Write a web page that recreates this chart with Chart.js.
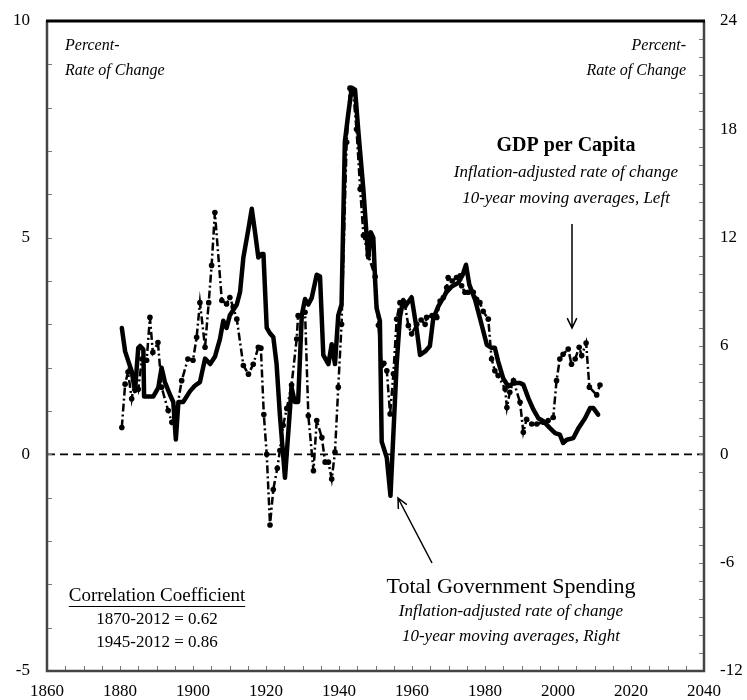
<!DOCTYPE html>
<html>
<head>
<meta charset="utf-8">
<script src="https://cdn.jsdelivr.net/npm/chart.js@4.4.1/dist/chart.umd.min.js"></script>
<style>
  html, body { margin: 0; padding: 0; background: #fff; }
  #wrap { width: 747px; height: 700px; position: relative; }
</style>
</head>
<body>
<div id="wrap"><canvas id="chart" width="747" height="700"></canvas></div>
<script>
// GDP per capita, 10-yr moving avg, % change (left axis)
const gdpYears = [1880.5,1881.4,1882.2,1883.2,1884.1,1885,1886,1887.3,1888.2,1889,1890.4,1891.4,1893.2,1894.2,1895.5,1896.9,1898.6,1900,1901,1901.9,
  1903.3,1904.3,1905.1,1906,1907.9,1909.2,1910.1,1911,1912,1913.8,1915.2,1916.5,1917.9,1918.6,1919.4,1920.2,1921.1,1922,1923.1,1923.8,
  1924.7,1925.7,1927,1928.4,1928.8,1930.7,1931.6,1933,1933.9,1935.3,1936.2,1937.1,1938,1938.9,1939.8,1940.7,1942.1,1943,1943.9,1944.8,
  1945.8,1946.7,1948,1949.9,1950.8,1951.7,1952.3,1953.1,1954,1954.9,1955.8,1956.7,1958.1,1959,1959.9,1961.3,1962.5,1963.6,1964,1965.5,
  1966.8,1967.7,1968.6,1969.5,1969.9,1971,1972.2,1973.2,1973.6,1974.5,1975.4,1976.8,1977.7,1978.6,1979.5,1980.9,1981.8,1982.7,1983.6,1985.5,
  1986,1986.8,1987.8,1989.6,1990.5,1991.4,1992.8,1994.2,1996,1997.3,1998.7,1999.6,2000.5,2001.4,2002.8,2003.7,2004.7,2005.8,2006.5,2007.7,
  2008.6,2010.6,2011.5];
const gdpValues = [0.62,1.62,1.9,1.28,1.75,1.5,2.2,2.17,3.16,2.35,2.58,1.55,1.01,0.74,1.0,1.7,2.2,2.17,2.7,3.5,
  2.47,3.5,4.36,5.58,3.55,3.47,3.62,3.4,3.12,2.05,1.85,2.08,2.47,2.45,0.92,0.0,-1.63,-0.81,-0.32,0.09,
  0.67,1.06,1.6,2.66,3.2,3.28,0.89,-0.38,0.78,0.39,-0.18,-0.18,-0.57,0.05,1.55,3.0,7.2,8.45,8.35,7.5,
  6.12,5.05,4.6,4.1,2.98,2.05,2.1,1.93,0.93,1.86,3.12,3.5,3.43,2.97,2.78,3.0,3.1,3.0,3.16,3.2,
  3.16,3.54,3.62,3.85,4.08,4.0,4.08,4.12,3.89,3.74,3.74,3.74,3.58,3.5,3.3,3.12,2.2,1.93,1.82,1.51,
  1.08,1.43,1.7,1.2,0.51,0.81,0.7,0.7,0.74,0.78,0.85,1.7,2.2,2.31,2.43,2.08,2.2,2.47,2.28,2.57,
  1.55,1.37,1.6];

// Total government spending, 10-yr moving avg, % change (right axis)
const spendYears = [1880.5,1881.4,1882.3,1883.2,1884.1,1885,1885.5,1886.4,1886.6,1889.1,1890.5,1891.4,1892.3,1893.7,1894.6,1895.3,1896,1897.3,1899.2,1900.5,
  1901.9,1903.3,1904.7,1906,1907.4,1908.3,1909.2,1910.1,1912,1912.9,1913.8,1915.2,1916.1,1917,1917.9,1918.8,1919.3,1920.2,1921.1,1922,
  1922.9,1923.8,1925.2,1927,1927.9,1928.8,1929.8,1930.7,1931.6,1932.5,1933.9,1934.8,1935.7,1937.1,1938,1938.9,1939.8,1940.7,1941.6,1942.5,
  1943.5,1944.4,1945.3,1946.7,1947.6,1948,1948.7,1949.4,1949.9,1950.3,1951.2,1951.7,1953.1,1954.1,1955.8,1956.7,1957.6,1958.5,1959.9,1961.3,
  1962.2,1963.6,1964.9,1965.8,1967.2,1969.5,1970.9,1972.7,1973.9,1974.8,1975.7,1977.3,1978.6,1980.5,1981.8,1982.7,1983.6,1985,1986.4,1987.8,
  1989.6,1990.5,1991.9,1993.2,1994.6,1996,1997.8,1999.2,2000.5,2001.4,2002.4,2004.2,2005.6,2007.4,2008.8,2009.7,2011];
const spendValues = [7.0,5.7,5.15,4.6,3.5,5.9,6.0,5.8,3.2,3.2,3.7,4.8,4.0,3.3,2.9,0.82,2.9,2.9,3.5,3.8,
  4.0,5.3,5.0,5.4,6.4,7.4,7.0,7.7,8.3,9.0,10.9,12.5,13.6,12.3,10.9,11.1,11.1,7.0,6.7,6.5,
  5.0,2.2,-1.3,3.7,2.9,2.9,7.7,8.6,8.3,8.65,9.95,9.85,5.5,5.0,6.1,5.0,7.7,8.3,17.3,18.8,
  20.3,20.2,17.9,14.6,12.0,10.9,12.3,12.0,9.6,8.1,7.4,0.7,-0.2,-2.3,5.0,7.6,8.55,8.3,8.7,6.9,
  5.5,5.7,6.0,7.5,8.2,9.0,9.3,9.5,9.95,10.5,9.4,8.55,7.55,6.07,5.9,5.9,5.15,4.2,3.76,3.95,
  3.95,3.86,3.1,2.5,2.0,1.83,1.45,1.18,1.09,0.63,0.81,0.9,1.45,2.0,2.56,2.56,2.2];

const xTicks = [1860,1880,1900,1920,1940,1960,1980,2000,2020,2040];
const leftTicks = [-5,0,5,10];
const rightTicks = [-12,-6,0,6,12,18,24];

const SERIF = '"Liberation Serif", "Times New Roman", serif';

function toPoints(xs, ys) {
  return xs.map((x, i) => ({ x: x, y: ys[i] }));
}

// frame, inner tick marks, zero line, notes and arrows
const decorations = {
  id: 'decorations',
  beforeDatasetsDraw(chart) {
    const { ctx, chartArea: a, scales } = chart;
    const y0 = scales.yL.getPixelForValue(0);
    ctx.save();
    ctx.strokeStyle = '#000';
    ctx.lineWidth = 1.6;
    ctx.setLineDash([8, 5]);
    ctx.beginPath();
    ctx.moveTo(a.left, y0);
    ctx.lineTo(a.right, y0);
    ctx.stroke();
    ctx.restore();
  },
  afterDraw(chart) {
    const { ctx, chartArea: a, scales } = chart;
    ctx.save();

    // minor ticks pointing inward
    ctx.strokeStyle = '#777';
    ctx.lineWidth = 1;
    ctx.beginPath();
    for (let v = -5; v <= 10; v++) {
      const y = Math.round(scales.yL.getPixelForValue(v)) + 0.5;
      ctx.moveTo(a.left, y); ctx.lineTo(a.left + 5, y);
    }
    for (let v = -12; v <= 24; v++) {
      const y = Math.round(scales.yR.getPixelForValue(v)) + 0.5;
      ctx.moveTo(a.right, y); ctx.lineTo(a.right - 5, y);
    }
    for (let yr = 1860; yr <= 2040; yr += 5) {
      const x = Math.round(scales.x.getPixelForValue(yr)) + 0.5;
      ctx.moveTo(x, a.bottom); ctx.lineTo(x, a.bottom - 5);
    }
    ctx.stroke();

    // frame
    ctx.strokeStyle = '#444';
    ctx.lineWidth = 2.5;
    ctx.beginPath();
    ctx.moveTo(a.left, a.top);
    ctx.lineTo(a.left, a.bottom);
    ctx.lineTo(a.right, a.bottom);
    ctx.lineTo(a.right, a.top);
    ctx.stroke();
    ctx.strokeStyle = '#000';
    ctx.lineWidth = 3;
    ctx.beginPath();
    ctx.moveTo(a.left - 1, a.top);
    ctx.lineTo(a.right + 1, a.top);
    ctx.stroke();

    // text notes
    ctx.fillStyle = '#000';
    ctx.textBaseline = 'middle';
    ctx.font = 'italic 16px ' + SERIF;
    ctx.textAlign = 'left';
    ctx.fillText('Percent-', 65, 46);
    ctx.fillText('Rate of Change', 65, 71);
    ctx.textAlign = 'right';
    ctx.fillText('Percent-', 686, 46);
    ctx.fillText('Rate of Change', 686, 71);

    ctx.textAlign = 'center';
    ctx.font = 'bold 20px ' + SERIF;
    ctx.fillText('GDP per Capita', 566, 146);
    ctx.font = 'italic 17px ' + SERIF;
    ctx.fillText('Inflation-adjusted rate of change', 566, 173);
    ctx.fillText('10-year moving averages, Left', 566, 199);

    ctx.font = '22px ' + SERIF;
    ctx.fillText('Total Government Spending', 511, 587);
    ctx.font = 'italic 17px ' + SERIF;
    ctx.fillText('Inflation-adjusted rate of change', 511, 612);
    ctx.fillText('10-year moving averages, Right', 511, 637);

    ctx.font = '19px ' + SERIF;
    ctx.fillText('Correlation Coefficient', 157, 596);
    const w = ctx.measureText('Correlation Coefficient').width;
    ctx.font = '17px ' + SERIF;
    ctx.fillText('1870-2012 = 0.62', 157, 620);
    ctx.fillText('1945-2012 = 0.86', 157, 643);
    ctx.lineWidth = 1;
    ctx.strokeStyle = '#000';
    ctx.beginPath();
    ctx.moveTo(157 - w / 2, 606.5);
    ctx.lineTo(157 + w / 2, 606.5);
    ctx.stroke();

    // arrows
    drawArrow(ctx, 572, 224, 572, 328);
    drawArrow(ctx, 432, 563, 398, 498);
    ctx.restore();
  }
};

function drawArrow(ctx, x1, y1, x2, y2) {
  const ang = Math.atan2(y2 - y1, x2 - x1);
  const len = 11, spread = 0.45;
  ctx.strokeStyle = '#000';
  ctx.lineWidth = 1.5;
  ctx.setLineDash([]);
  ctx.beginPath();
  ctx.moveTo(x1, y1);
  ctx.lineTo(x2, y2);
  ctx.moveTo(x2 - len * Math.cos(ang - spread), y2 - len * Math.sin(ang - spread));
  ctx.lineTo(x2, y2);
  ctx.lineTo(x2 - len * Math.cos(ang + spread), y2 - len * Math.sin(ang + spread));
  ctx.stroke();
}

const tickFont = { family: SERIF, size: 17 };

new Chart(document.getElementById('chart'), {
  type: 'line',
  data: {
    datasets: [
      {
        label: 'Total Government Spending',
        data: toPoints(spendYears, spendValues),
        yAxisID: 'yR',
        borderColor: '#000',
        borderWidth: 4.5,
        borderJoinStyle: 'round',
        borderCapStyle: 'round',
        pointRadius: 0,
        tension: 0
      },
      {
        label: 'GDP per Capita',
        data: toPoints(gdpYears, gdpValues),
        yAxisID: 'yL',
        borderColor: '#000',
        borderWidth: 2.5,
        borderDash: [8, 3, 2, 3],
        pointRadius: 2.8,
        pointBackgroundColor: '#000',
        pointBorderWidth: 0,
        tension: 0
      }
    ]
  },
  options: {
    responsive: false,
    animation: false,
    events: [],
    layout: { padding: { top: 21, left: 0, right: 0, bottom: 0 } },
    plugins: { legend: { display: false }, tooltip: { enabled: false } },
    scales: {
      x: {
        type: 'linear',
        min: 1860,
        max: 2040,
        afterBuildTicks: s => { s.ticks = xTicks.map(v => ({ value: v })); },
        afterFit: s => { s.height = 29; s.paddingLeft = 0; s.paddingRight = 0; },
        grid: { display: false, drawTicks: false },
        border: { display: false },
        ticks: { font: tickFont, color: '#000', padding: 10, maxRotation: 0, autoSkip: false,
                 callback: v => String(v) }
      },
      yL: {
        position: 'left',
        min: -5,
        max: 10,
        afterBuildTicks: s => { s.ticks = leftTicks.map(v => ({ value: v })); },
        afterFit: s => { s.width = 47; s.paddingTop = 0; s.paddingBottom = 0; },
        grid: { display: false, drawTicks: false },
        border: { display: false },
        ticks: { font: tickFont, color: '#000', padding: 17 }
      },
      yR: {
        position: 'right',
        min: -12,
        max: 24,
        afterBuildTicks: s => { s.ticks = rightTicks.map(v => ({ value: v })); },
        afterFit: s => { s.width = 43; s.paddingTop = 0; s.paddingBottom = 0; },
        grid: { display: false, drawTicks: false },
        border: { display: false },
        ticks: { font: tickFont, color: '#000', padding: 16 }
      }
    }
  },
  plugins: [decorations]
});
</script>
</body>
</html>
